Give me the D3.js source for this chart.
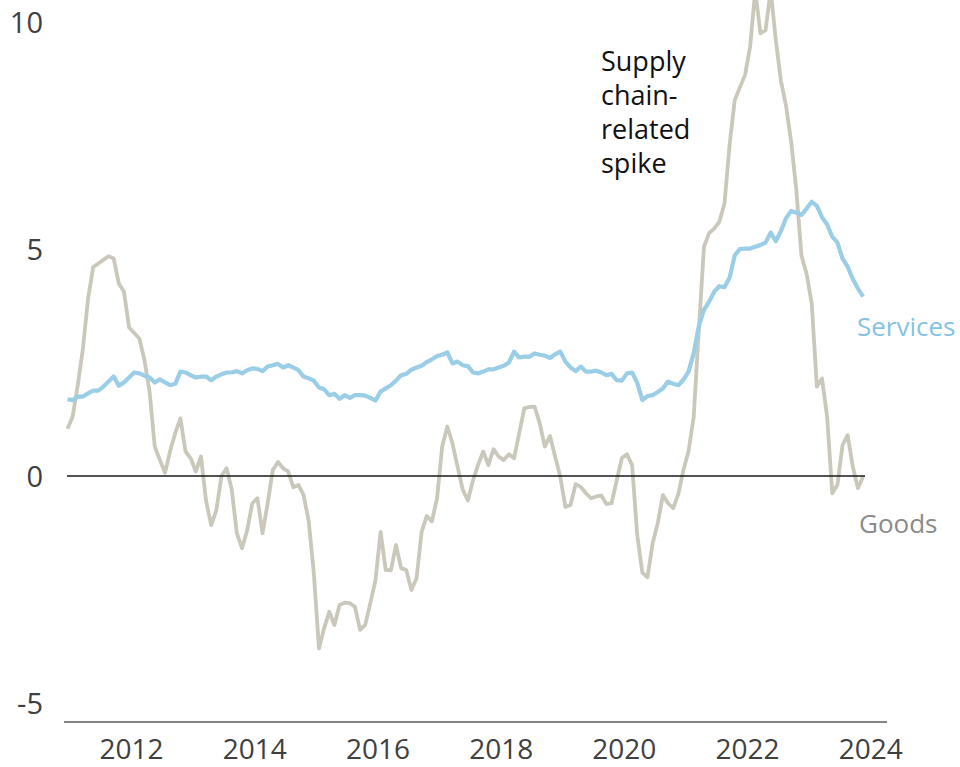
<!DOCTYPE html>
<html>
<head>
<meta charset="utf-8">
<script src="https://cdn.jsdelivr.net/npm/d3@7"></script>
<style>
  html, body { margin: 0; padding: 0; background: #fff; }
  svg { display: block; font-family: "Open Sans", "Noto Sans", sans-serif; }
</style>
</head>
<body>
<svg id="chart" width="960" height="767"></svg>
<script>
// Monthly inflation contribution, Jan 2011 – Dec 2023 (%)
const startYear = 2011;

const goods = [
  1.04, 1.31, 2.0, 2.8, 3.9, 4.6, 4.68, 4.76, 4.84, 4.79, 4.24, 4.06,
  3.27, 3.15, 3.03, 2.55, 1.85, 0.65, 0.35, 0.07, 0.55, 0.95, 1.27, 0.54,
  0.39, 0.1, 0.43, -0.55, -1.08, -0.75, 0.0, 0.17, -0.3, -1.26, -1.59, -1.2,
  -0.6, -0.49, -1.26, -0.6, 0.13, 0.31, 0.17, 0.1, -0.25, -0.2, -0.42, -1.0,
  -2.15, -3.8, -3.35, -2.99, -3.28, -2.84, -2.79, -2.8, -2.88, -3.39, -3.28, -2.8,
  -2.3, -1.23, -2.07, -2.08, -1.52, -2.03, -2.07, -2.51, -2.25, -1.23, -0.88, -1.0,
  -0.49, 0.65, 1.09, 0.72, 0.2, -0.3, -0.54, -0.1, 0.25, 0.54, 0.24, 0.59,
  0.43, 0.35, 0.48, 0.39, 0.94, 1.49, 1.52, 1.53, 1.16, 0.65, 0.88, 0.43,
  -0.01, -0.68, -0.64, -0.18, -0.24, -0.38, -0.49, -0.45, -0.43, -0.62, -0.6, -0.1,
  0.39, 0.48, 0.24, -1.3, -2.13, -2.23, -1.48, -1.04, -0.42, -0.6, -0.71, -0.4,
  0.13, 0.55, 1.3, 3.2, 5.05, 5.35, 5.45, 5.6, 6.0, 7.3, 8.28, 8.56,
  8.83, 9.46, 10.7, 9.75, 9.82, 10.7, 9.6, 8.7, 8.15, 7.35, 6.3, 4.85,
  4.45, 3.8, 1.97, 2.15, 1.3, -0.38, -0.2, 0.68, 0.9, 0.2, -0.27, -0.01
];

const services = [
  1.69, 1.67, 1.75, 1.75, 1.82, 1.88, 1.88, 1.97, 2.08, 2.19, 1.99, 2.06,
  2.17, 2.28, 2.26, 2.21, 2.17, 2.06, 2.13, 2.06, 2.0, 2.03, 2.3, 2.28,
  2.22, 2.17, 2.19, 2.19, 2.11, 2.19, 2.24, 2.28, 2.28, 2.31, 2.26, 2.33,
  2.37, 2.36, 2.31, 2.41, 2.44, 2.47, 2.39, 2.44, 2.39, 2.33, 2.19, 2.15,
  2.1, 1.95, 1.91, 1.78, 1.81, 1.7, 1.78, 1.72, 1.78, 1.78, 1.77, 1.72,
  1.66, 1.86, 1.93, 2.0, 2.1, 2.22, 2.25, 2.34, 2.39, 2.43, 2.51, 2.57,
  2.64, 2.67, 2.72, 2.48, 2.52, 2.44, 2.42, 2.28, 2.26, 2.3, 2.35, 2.35,
  2.39, 2.43, 2.5, 2.74, 2.61, 2.63, 2.63, 2.7, 2.67, 2.65, 2.6, 2.68,
  2.74, 2.52, 2.39, 2.31, 2.41, 2.3, 2.3, 2.32, 2.28, 2.22, 2.25, 2.11,
  2.1, 2.26, 2.28, 2.05, 1.67, 1.76, 1.78, 1.85, 1.93, 2.08, 2.03, 2.0,
  2.12, 2.3, 2.7, 3.3, 3.66, 3.84, 4.06, 4.18, 4.16, 4.37, 4.86, 5.0,
  5.01, 5.01, 5.05, 5.09, 5.14, 5.36, 5.17, 5.4, 5.68, 5.84, 5.8, 5.75,
  5.89, 6.04, 5.95, 5.7, 5.54, 5.27, 5.14, 4.79, 4.61, 4.34, 4.13, 3.95
];

const yTicks = [-5, 0, 5, 10];
const xTicks = [2012, 2014, 2016, 2018, 2020, 2022, 2024];

const annotation = ["Supply", "chain-", "related", "spike"];
const seriesLabels = ["Services", "Goods"];

const svg = d3.select("#chart");

const x = d3.scaleLinear().domain([2011, 2024]).range([67.5, 868.2]);
const y = d3.scaleLinear().domain([-5, 10]).range([703, 22]);

const t = i => startYear + i / 12;

const line = d3.line().x((d, i) => x(t(i))).y(d => y(d));

// Goods line (drawn beneath services)
svg.append("path")
  .datum(goods)
  .attr("fill", "none")
  .attr("stroke", "#cac8bb")
  .attr("stroke-width", 3.8)
  .attr("stroke-linejoin", "round")
  .attr("d", line);

// zero line
svg.append("line")
  .attr("x1", 67).attr("x2", 865)
  .attr("y1", y(0)).attr("y2", y(0))
  .attr("stroke", "#1a1a1a").attr("stroke-width", 1.5);

svg.append("path")
  .datum(services)
  .attr("fill", "none")
  .attr("stroke", "#9acde6")
  .attr("stroke-width", 4.2)
  .attr("stroke-linejoin", "round")
  .attr("d", line);

// bottom axis
svg.append("line")
  .attr("x1", 64).attr("x2", 887)
  .attr("y1", 722).attr("y2", 722)
  .attr("stroke", "#5a5a5a").attr("stroke-width", 1.5);

const xAxis = svg.append("g")
  .attr("transform", "translate(0,722)")
  .call(d3.axisBottom(x).tickValues(xTicks).tickFormat(d => String(d)).tickSize(0).tickPadding(17));
xAxis.select(".domain").remove();
xAxis.selectAll("text")
  .attr("font-size", 28)
  .attr("font-family", "'Open Sans', sans-serif")
  .attr("fill", "#404040")
  .attr("dx", 2);

const yAxis = svg.append("g")
  .attr("transform", "translate(43,0)")
  .call(d3.axisLeft(y).tickValues(yTicks).tickFormat(d => String(d)).tickSize(0).tickPadding(0));
yAxis.select(".domain").remove();
yAxis.selectAll("text")
  .attr("font-size", 29)
  .attr("font-family", "'Open Sans', sans-serif")
  .attr("fill", "#404040")
  .attr("dy", "0.36em");

// annotation
svg.append("text")
  .attr("x", 601)
  .attr("font-size", 27)
  .attr("fill", "#111")
  .selectAll("tspan")
  .data(annotation)
  .join("tspan")
  .attr("x", 601)
  .attr("y", (d, i) => 71 + i * 34)
  .text(d => d);

// series labels
svg.append("text")
  .attr("x", 857).attr("y", 336)
  .attr("font-size", 26)
  .attr("fill", "#86c2e2")
  .text(seriesLabels[0]);

svg.append("text")
  .attr("x", 859).attr("y", 533)
  .attr("font-size", 26)
  .attr("fill", "#8a8a8a")
  .text(seriesLabels[1]);
</script>
</body>
</html>
